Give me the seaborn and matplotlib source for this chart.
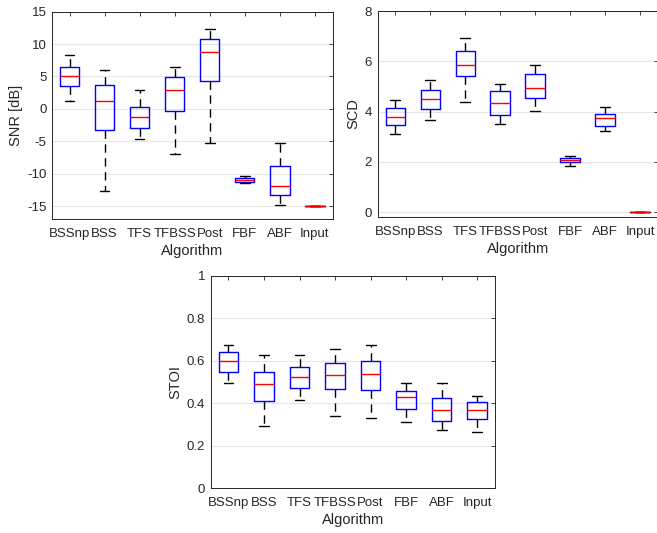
import numpy as np
import pandas as pd
import matplotlib
matplotlib.use("Agg")
import matplotlib.pyplot as plt
import seaborn as sns
from matplotlib.ticker import FuncFormatter

algorithms = ["BSSnp", "BSS", "TFS", "TFBSS", "Post", "FBF", "ABF", "Input"]

# five-number summaries: [lower whisker, Q1, median, Q3, upper whisker]
snr_stats = [
    [1.2, 3.57, 5.07, 6.4, 8.3],
    [-12.64, -3.32, 1.2, 3.73, 5.94],
    [-4.71, -2.96, -1.26, 0.23, 2.85],
    [-7.03, -0.29, 2.9, 4.96, 6.5],
    [-5.33, 4.3, 8.82, 10.83, 12.38],
    [-11.5, -11.25, -10.99, -10.73, -10.37],
    [-14.85, -13.26, -11.92, -8.88, -5.28],
    [-15.0, -15.0, -15.0, -15.0, -15.0],
]
scd_stats = [
    [3.09, 3.46, 3.80, 4.16, 4.48],
    [3.67, 4.11, 4.52, 4.87, 5.24],
    [4.37, 5.40, 5.87, 6.42, 6.91],
    [3.50, 3.85, 4.34, 4.81, 5.11],
    [4.01, 4.53, 4.94, 5.51, 5.84],
    [1.84, 1.99, 2.09, 2.16, 2.25],
    [3.22, 3.43, 3.73, 3.92, 4.20],
    [0.0, 0.0, 0.0, 0.0, 0.0],
]
stoi_stats = [
    [0.495, 0.545, 0.597, 0.643, 0.676],
    [0.295, 0.412, 0.489, 0.545, 0.629],
    [0.415, 0.470, 0.524, 0.569, 0.625],
    [0.339, 0.466, 0.531, 0.591, 0.654],
    [0.329, 0.462, 0.539, 0.599, 0.674],
    [0.313, 0.371, 0.431, 0.459, 0.497],
    [0.274, 0.318, 0.367, 0.423, 0.497],
    [0.266, 0.326, 0.367, 0.404, 0.434],
]

snr_ticks = [-15, -10, -5, 0, 5, 10, 15]
scd_ticks = [0, 2, 4, 6, 8]
stoi_ticks = [0, 0.2, 0.4, 0.6, 0.8, 1]


def to_frame(stats):
    rows = []
    for alg, s in zip(algorithms, stats):
        for v in s:
            rows.append({"Algorithm": alg, "value": v})
    return pd.DataFrame(rows)


sns.set_style("white")
plt.rcParams["font.family"] = ["Liberation Sans", "DejaVu Sans"]

TXT = "#262626"
fig = plt.figure(figsize=(6.57, 5.33), dpi=100)

W, H = 657.0, 533.0


def axes_px(x0, y0, x1, y1):
    return fig.add_axes([x0 / W, 1 - y1 / H, (x1 - x0) / W, (y1 - y0) / H])


ax1 = axes_px(52, 11.7, 332.5, 219)
ax2 = axes_px(377.7, 11, 657.5, 216.7)
ax3 = axes_px(210.7, 275.7, 495, 488.3)

panels = [
    (ax1, snr_stats, "SNR [dB]", (-17, 15), snr_ticks),
    (ax2, scd_stats, "SCD", (-0.18, 8), scd_ticks),
    (ax3, stoi_stats, "STOI", (0, 1), stoi_ticks),
]

for ax, stats, ylabel, ylim, ticks in panels:
    df = to_frame(stats)
    ax.set_axisbelow(True)
    ax.grid(True, color="#e6e6e6", linewidth=0.8)
    sns.boxplot(
        data=df, x="Algorithm", y="value", ax=ax, order=algorithms,
        whis=(0, 100), fill=False, width=0.55, linecolor="#0000ff",
        boxprops=dict(color="#0000ff", linewidth=1.0),
        medianprops=dict(color="#ff0000", linewidth=1.0),
        whiskerprops=dict(color="black", linestyle=(0, (6, 4)), linewidth=1.0),
        capprops=dict(color="black", linewidth=1.0),
        showfliers=False,
    )
    ax.set_xlim(-0.5, 7.5)
    ax.set_ylim(*ylim)
    ax.set_yticks(ticks)
    ax.yaxis.set_major_formatter(FuncFormatter(lambda v, p: f"{v:g}"))
    ax.set_xticks(range(len(algorithms)))
    ax.set_xticklabels(algorithms)
    ax.set_ylabel(ylabel, color=TXT, fontsize=10.5, labelpad=3)
    ax.set_xlabel("Algorithm", color=TXT, fontsize=10.5, labelpad=3)
    ax.tick_params(direction="in", length=3, width=0.6, colors=TXT,
                   top=True, right=True, labelsize=9.5)
    ax.tick_params(axis="x", pad=6.5)
    ax.tick_params(axis="y", pad=4)
    for sp in ax.spines.values():
        sp.set_visible(True)
        sp.set_color(TXT)
        sp.set_linewidth(0.7)

fig.savefig("out.png", dpi=100)
